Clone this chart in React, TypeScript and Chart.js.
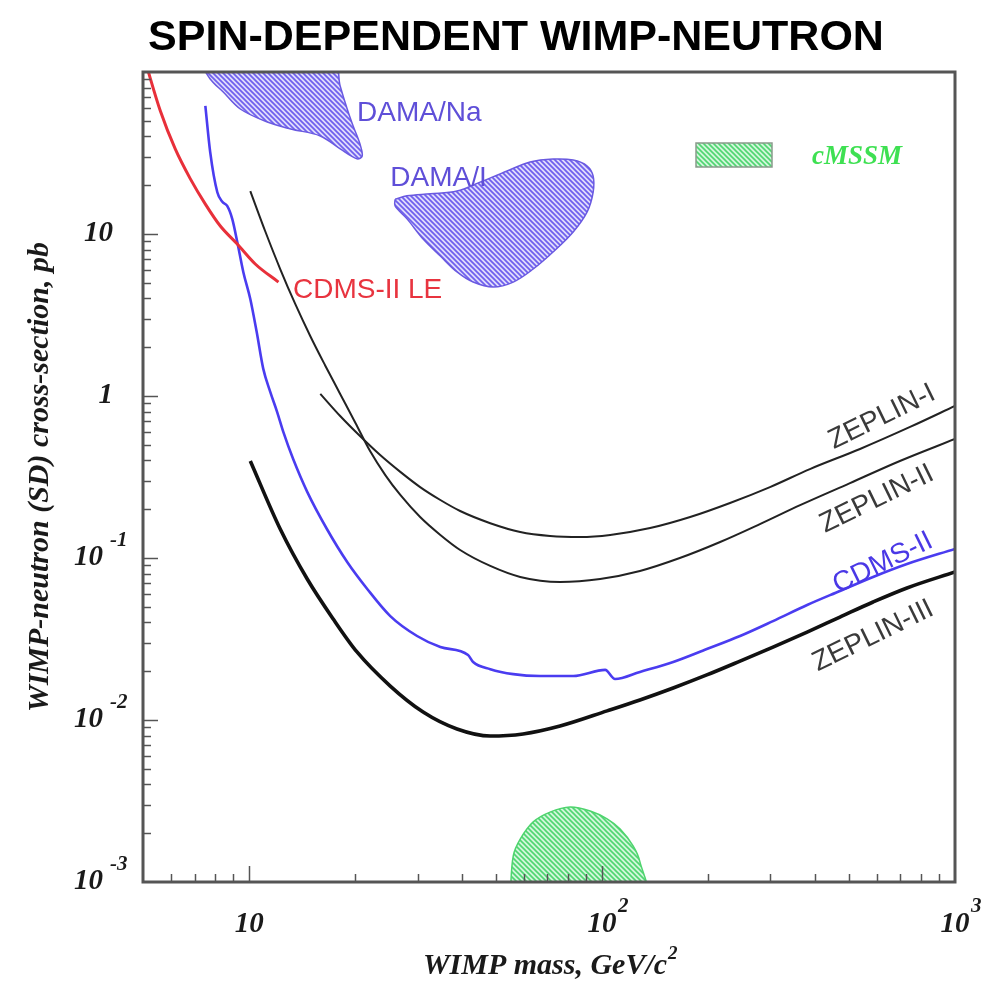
import { useEffect, useRef } from 'react';
import { Chart, registerables } from 'chart.js';

Chart.register(...registerables);

// ---------- axis ranges ----------
const X_MIN = 5;
const X_MAX = 1000;
const Y_MIN = 0.001;
const Y_MAX = 100;

// ---------- exclusion curves (mass GeV, sigma pb) ----------
const cdmsLeMass = [5.07, 5.6, 6.17, 6.81, 7.51, 8.28, 9.25, 10.4, 12.1];
const cdmsLeSigma = [117, 57.4, 33.5, 21.9, 15.3, 11.2, 8.67, 6.53, 5.05];

const cdmsMass = [7.51, 7.75, 8.12, 8.39, 8.66, 8.95, 9.25, 9.62, 10.07, 10.5, 10.96, 11.47, 12.0, 12.49, 13.32, 14.6, 16.6, 18.95, 21.6, 25.1, 29.9, 34.8, 41.7, 43.1, 48.2, 56.0, 66.7, 82.8, 102, 108.8, 128, 159, 198, 246, 305, 381, 472, 586, 731, 1000];
const cdmsSigma = [61.7, 32.1, 18.1, 15.8, 14.9, 12.4, 8.93, 5.83, 3.97, 2.48, 1.47, 1.06, 0.796, 0.6, 0.408, 0.256, 0.151, 0.0945, 0.0644, 0.0438, 0.033, 0.0282, 0.0252, 0.0228, 0.0206, 0.0192, 0.0187, 0.0187, 0.0204, 0.0179, 0.0198, 0.0228, 0.0274, 0.033, 0.0408, 0.0513, 0.0626, 0.0764, 0.0918, 0.1138];

const zeplin1Mass = [15.9, 18.1, 20.6, 23.5, 26.8, 30.5, 34.8, 39.6, 48.2, 58.6, 71.2, 86.6, 105.4, 136.8, 177.6, 230.4, 299, 388, 538, 746, 1000];
const zeplin1Sigma = [1.03, 0.752, 0.566, 0.432, 0.34, 0.274, 0.228, 0.195, 0.164, 0.1447, 0.1368, 0.1348, 0.1387, 0.153, 0.179, 0.2186, 0.274, 0.354, 0.471, 0.644, 0.868];

const zeplin2Mass = [10.07, 11.1, 12.24, 13.5, 14.9, 16.4, 18.1, 20.0, 22.0, 24.3, 26.8, 30.5, 34.8, 39.6, 48.2, 58.6, 76.0, 98.7, 128, 166, 216, 280, 364, 504, 698, 1000];
const zeplin2Sigma = [18.4, 10.4, 6.08, 3.7, 2.34, 1.55, 1.03, 0.681, 0.457, 0.325, 0.245, 0.179, 0.1387, 0.112, 0.0893, 0.0764, 0.0711, 0.0742, 0.0832, 0.1, 0.1256, 0.162, 0.212, 0.29, 0.397, 0.543];

const zeplin3Mass = [10.07, 12.24, 14.6, 17.3, 20.2, 25.1, 31.1, 38.8, 48.2, 59.7, 76.0, 103.3, 128, 159, 198, 246, 305, 381, 472, 586, 731, 1000];
const zeplin3Sigma = [0.397, 0.151, 0.0742, 0.042, 0.0263, 0.0162, 0.0112, 0.0088, 0.00796, 0.0082, 0.00918, 0.01138, 0.01329, 0.01576, 0.01897, 0.0231, 0.0282, 0.0349, 0.0432, 0.0535, 0.0653, 0.082];

// ---------- allowed regions (closed contours) ----------
const damaNaMass = [7.03, 17.1, 18.1, 18.95, 19.7, 20.6, 20.9, 20.2, 18.1, 15.9, 13.1, 11.25, 9.43, 8.44, 7.75, 7.03];
const damaNaSigma = [129, 129, 82.0, 59.1, 46.4, 35.9, 30.3, 29.1, 33.5, 40.3, 44.5, 49.1, 59.1, 75.2, 90.6, 129];

const damaIMass = [25.9, 28.0, 32.6, 38.8, 45.1, 53.8, 62.5, 72.6, 82.8, 90.7, 94.3, 94.3, 90.7, 82.8, 72.6, 63.8, 56.0, 49.1, 43.1, 38.8, 34.8, 31.1, 28.0, 25.9, 25.9];
const damaISigma = [16.4, 17.2, 17.7, 18.4, 20.9, 24.5, 27.8, 29.0, 28.6, 26.3, 22.8, 18.1, 13.7, 10.3, 7.74, 6.08, 5.05, 4.71, 5.05, 5.83, 7.31, 9.31, 12.4, 14.9, 16.4];

const cmssmMass = [54.9, 56.0, 58.6, 63.8, 71.2, 81.2, 92.5, 103.3, 112.5, 122.4, 128, 131.5, 54.9];
const cmssmSigma = [0.00084, 0.00145, 0.00184, 0.00235, 0.0027, 0.0029, 0.00274, 0.00245, 0.00212, 0.00167, 0.00133, 0.00084, 0.00084];

// ---------- tick labels ----------
const yTickValues = [10, 1, 0.1, 0.01, 0.001];
const yTickBases = ['10', '1', '10', '10', '10'];
const yTickExps = ['', '', '-1', '-2', '-3'];
const xTickValues = [10, 100, 1000];
const xTickBases = ['10', '10', '10'];
const xTickExps = ['', '2', '3'];

// ---------- curve annotations ----------
const labelTexts = ['DAMA/Na', 'DAMA/I', 'CDMS-II LE', 'ZEPLIN-I', 'ZEPLIN-II', 'CDMS-II', 'ZEPLIN-III'];
const labelMass = [20.2, 25.1, 13.3, 621, 601, 625, 586];
const labelSigma = [55.8, 22.2, 4.51, 0.742, 0.231, 0.0931, 0.033];

const TITLE = 'SPIN-DEPENDENT WIMP-NEUTRON';
const Y_TITLE = 'WIMP-neutron (SD) cross-section, pb';
const X_TITLE = 'WIMP mass, GeV/c';
const LEGEND_TEXT = 'cMSSM';

const SERIF = '"Liberation Serif", "Times New Roman", serif';
const SANS = '"Liberation Sans", Arial, sans-serif';

const labelStyle: any[] = [
  { align: 'left', angle: 0, color: '#5f4fd8' },
  { align: 'left', angle: 0, color: '#5f4fd8' },
  { align: 'left', angle: 0, color: '#e8343f' },
  { align: 'center', angle: -26, color: '#3a3a3a' },
  { align: 'center', angle: -26, color: '#3a3a3a' },
  { align: 'center', angle: -26, color: '#4a38e6' },
  { align: 'center', angle: -26, color: '#3a3a3a' },
];

function pts(xs: number[], ys: number[]) {
  return xs.map((x, i) => ({ x, y: ys[i] }));
}

function hatch(ctx: CanvasRenderingContext2D, bg: string, fg: string, size: number, lw: number) {
  const c = document.createElement('canvas');
  c.width = size;
  c.height = size;
  const g = c.getContext('2d')!;
  g.fillStyle = bg;
  g.fillRect(0, 0, size, size);
  g.strokeStyle = fg;
  g.lineWidth = lw;
  g.beginPath();
  for (const o of [-size, 0, size]) {
    g.moveTo(o - 1, -1);
    g.lineTo(o + size + 1, size + 1);
  }
  g.stroke();
  return ctx.createPattern(c, 'repeat');
}

export default function App() {
  const ref = useRef<HTMLCanvasElement>(null);

  useEffect(() => {
    const canvas = ref.current!;
    const ctx = canvas.getContext('2d')!;
    const damaFill = hatch(ctx, '#e0dcfc', '#6e5fee', 5, 1.7);
    const greenFill = hatch(ctx, '#d2f7db', '#4fd571', 5, 1.6);

    const decor = {
      id: 'decor',
      afterDraw(chart: any) {
        const c = chart.ctx as CanvasRenderingContext2D;
        const a = chart.chartArea;
        const sx = chart.scales.x;
        const sy = chart.scales.y;
        c.save();

        // minor / major ticks (inward)
        c.strokeStyle = '#555';
        c.lineWidth = 1.5;
        for (let n = -3; n <= 2; n++) {
          for (let k = 1; k <= 9; k++) {
            const v = k * Math.pow(10, n);
            if (v <= Y_MIN * 1.001 || v >= Y_MAX * 0.999) continue;
            const py = Math.round(sy.getPixelForValue(v)) + 0.5;
            const len = k === 1 ? 15 : 8;
            c.beginPath();
            c.moveTo(a.left, py);
            c.lineTo(a.left + len, py);
            c.stroke();
          }
        }
        for (let n = 0; n <= 3; n++) {
          for (let k = 1; k <= 9; k++) {
            const v = k * Math.pow(10, n);
            if (v <= X_MIN * 1.001 || v >= X_MAX * 0.999) continue;
            const px = Math.round(sx.getPixelForValue(v)) + 0.5;
            const len = k === 1 ? 16 : 8;
            c.beginPath();
            c.moveTo(px, a.bottom);
            c.lineTo(px, a.bottom - len);
            c.stroke();
          }
        }

        // frame
        c.strokeStyle = '#555';
        c.lineWidth = 3;
        c.strokeRect(a.left, a.top, a.right - a.left, a.bottom - a.top);

        // y tick labels
        c.fillStyle = '#1a1a1a';
        c.textBaseline = 'middle';
        yTickValues.forEach((v, i) => {
          const py = sy.getPixelForValue(v);
          c.font = `italic bold 29px ${SERIF}`;
          if (!yTickExps[i]) {
            c.textAlign = 'right';
            c.fillText(yTickBases[i], a.left - 30, py);
          } else {
            c.textAlign = 'right';
            c.fillText(yTickBases[i], a.left - 40, py);
            c.font = `italic bold 21px ${SERIF}`;
            c.textAlign = 'left';
            c.fillText(yTickExps[i], a.left - 33, py - 17);
          }
        });

        // x tick labels
        xTickValues.forEach((v, i) => {
          const px = sx.getPixelForValue(v);
          const py = a.bottom + 43;
          c.font = `italic bold 29px ${SERIF}`;
          c.textAlign = 'center';
          c.fillText(xTickBases[i], px, py);
          if (xTickExps[i]) {
            c.font = `italic bold 21px ${SERIF}`;
            c.textAlign = 'left';
            c.fillText(xTickExps[i], px + 16, py - 18);
          }
        });

        // axis titles
        c.font = `italic bold 30px ${SERIF}`;
        c.textAlign = 'center';
        c.save();
        c.translate(40, (a.top + a.bottom) / 2);
        c.rotate(-Math.PI / 2);
        c.fillText(Y_TITLE, 0, 0);
        c.restore();

        const xtW = c.measureText(X_TITLE).width;
        const xtCx = (a.left + a.right) / 2 - 4;
        c.textAlign = 'left';
        c.fillText(X_TITLE, xtCx - xtW / 2, a.bottom + 84);
        c.font = `italic bold 19px ${SERIF}`;
        c.fillText('2', xtCx + xtW / 2 + 1, a.bottom + 72);

        // main title
        c.fillStyle = '#000';
        c.font = `bold 43px ${SANS}`;
        c.textAlign = 'center';
        c.textBaseline = 'alphabetic';
        c.fillText(TITLE, 516, 50);

        // curve labels
        c.font = `28px ${SANS}`;
        c.textBaseline = 'middle';
        labelTexts.forEach((t, i) => {
          const st = labelStyle[i];
          const px = sx.getPixelForValue(labelMass[i]);
          const py = sy.getPixelForValue(labelSigma[i]);
          c.save();
          c.translate(px, py);
          c.rotate((st.angle * Math.PI) / 180);
          c.fillStyle = st.color;
          c.textAlign = st.align;
          c.fillText(t, 0, 0);
          c.restore();
        });

        // cMSSM legend
        const bx = a.left + 553;
        const by = a.top + 71;
        c.fillStyle = greenFill as any;
        c.fillRect(bx, by, 76, 24);
        c.strokeStyle = '#8a9a8c';
        c.lineWidth = 1.5;
        c.strokeRect(bx, by, 76, 24);
        c.font = `italic bold 27px ${SERIF}`;
        c.fillStyle = '#3ee052';
        c.textAlign = 'left';
        c.fillText(LEGEND_TEXT, a.left + 669, by + 14);

        c.restore();
      },
    };

    const curve = (data: any, color: string, width: number) => ({
      data,
      borderColor: color,
      borderWidth: width,
      pointRadius: 0,
      fill: false,
      cubicInterpolationMode: 'monotone',
    });
    const region = (data: any, border: string, bg: any) => ({
      data,
      borderColor: border,
      borderWidth: 1.5,
      backgroundColor: bg,
      pointRadius: 0,
      fill: 'shape',
      tension: 0.35,
    });

    const chart = new Chart(ctx, {
      type: 'line',
      data: {
        datasets: [
          curve(pts(cdmsLeMass, cdmsLeSigma), '#e8303a', 3),
          curve(pts(cdmsMass, cdmsSigma), '#4a3cf0', 2.6),
          curve(pts(zeplin3Mass, zeplin3Sigma), '#111', 3.6),
          curve(pts(zeplin2Mass, zeplin2Sigma), '#222', 2),
          curve(pts(zeplin1Mass, zeplin1Sigma), '#222', 2),
          region(pts(damaNaMass, damaNaSigma), '#6a5ae0', damaFill),
          region(pts(damaIMass, damaISigma), '#6a5ae0', damaFill),
          region(pts(cmssmMass, cmssmSigma), '#4fd46e', greenFill),
        ] as any,
      },
      options: {
        responsive: false,
        animation: false,
        devicePixelRatio: 1,
        events: [],
        layout: { padding: { left: 143, right: 47, top: 72, bottom: 111 } },
        plugins: { legend: { display: false }, tooltip: { enabled: false }, title: { display: false } },
        scales: {
          x: { type: 'logarithmic', min: X_MIN, max: X_MAX, display: false },
          y: { type: 'logarithmic', min: Y_MIN, max: Y_MAX, display: false },
        },
      } as any,
      plugins: [decor],
    });

    return () => chart.destroy();
  }, []);

  return (
    <div style={{ position: 'absolute', left: 0, top: 0, width: 1002, height: 993, background: '#fff' }}>
      <canvas ref={ref} width={1002} height={993} style={{ display: 'block' }} />
    </div>
  );
}
